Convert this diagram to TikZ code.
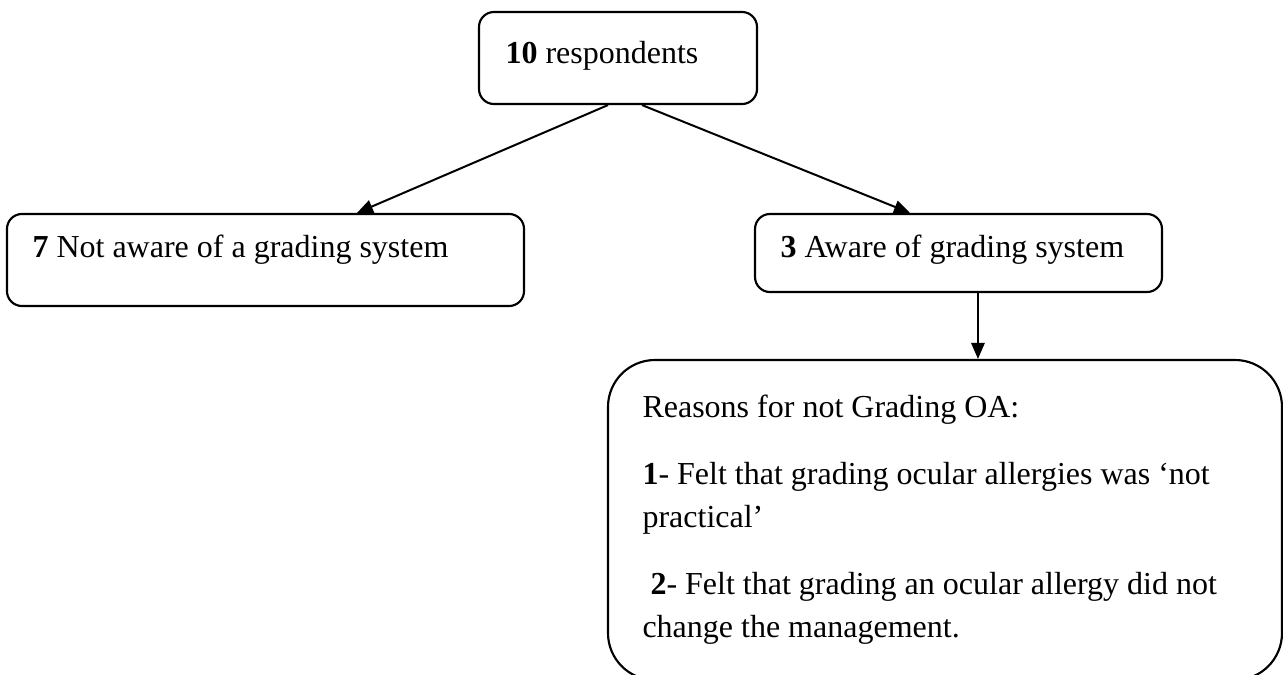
\documentclass[tikz,border=0pt]{standalone}
\usepackage{fontspec}
\setmainfont{Liberation Serif}
\usetikzlibrary{arrows.meta}
\begin{document}
\begin{tikzpicture}[x=0.375pt,y=-0.375pt,
  box/.style={draw, line width=0.8pt, rounded corners=5.6pt, inner sep=0pt},
  bigbox/.style={draw, line width=0.8pt, rounded corners=17.6pt, inner sep=0pt},
  txt/.style={anchor=base west, inner sep=0pt, font=\fontsize{12}{14}\selectfont},
  arr/.style={line width=0.75pt, -{Triangle[length=6pt,width=5pt]}}]
\useasboundingbox (0,0) rectangle (1283,675);
% boxes
\node[box, minimum width=104.25pt, minimum height=34.5pt] (top) at (618,58) {};
\node[box, minimum width=193.9pt, minimum height=34.5pt] (left) at (265.5,260) {};
\node[box, minimum width=152.6pt, minimum height=29.25pt] (right) at (958.5,253) {};
\node[bigbox, minimum width=252.75pt, minimum height=120pt] (reasons) at (945,520) {};
% texts
\node[txt] (ttop) at (505,63) {\textbf{10} respondents};
\node[txt] (tleft) at (32,257) {\textbf{7} Not aware of a grading system};
\node[txt] (tright) at (780,257) {\textbf{3} Aware of grading system};
\node[txt, align=left, font=\fontsize{12}{16.1}\selectfont] (treasons) at (642,637)
  {Reasons for not Grading OA:\\[9pt]
   \textbf{1}- Felt that grading ocular allergies was `not\\
   practical'\\[9pt]
   \ \textbf{2}- Felt that grading an ocular allergy did not\\
   change the management.};
% connectors
\coordinate (t1) at ([xshift=-3.75pt]top.south);
\coordinate (t2) at ([xshift=9pt]top.south);
\coordinate (l1) at ([xshift=34.3pt]left.north);
\coordinate (r1) at ([xshift=-18.2pt]right.north);
\coordinate (v1) at ([xshift=7.3pt]right.south);
\draw[arr] (t1) -- (l1);
\draw[arr] (t2) -- (r1);
\draw[arr] (v1) -- (v1 |- reasons.north);
\end{tikzpicture}
\end{document}
